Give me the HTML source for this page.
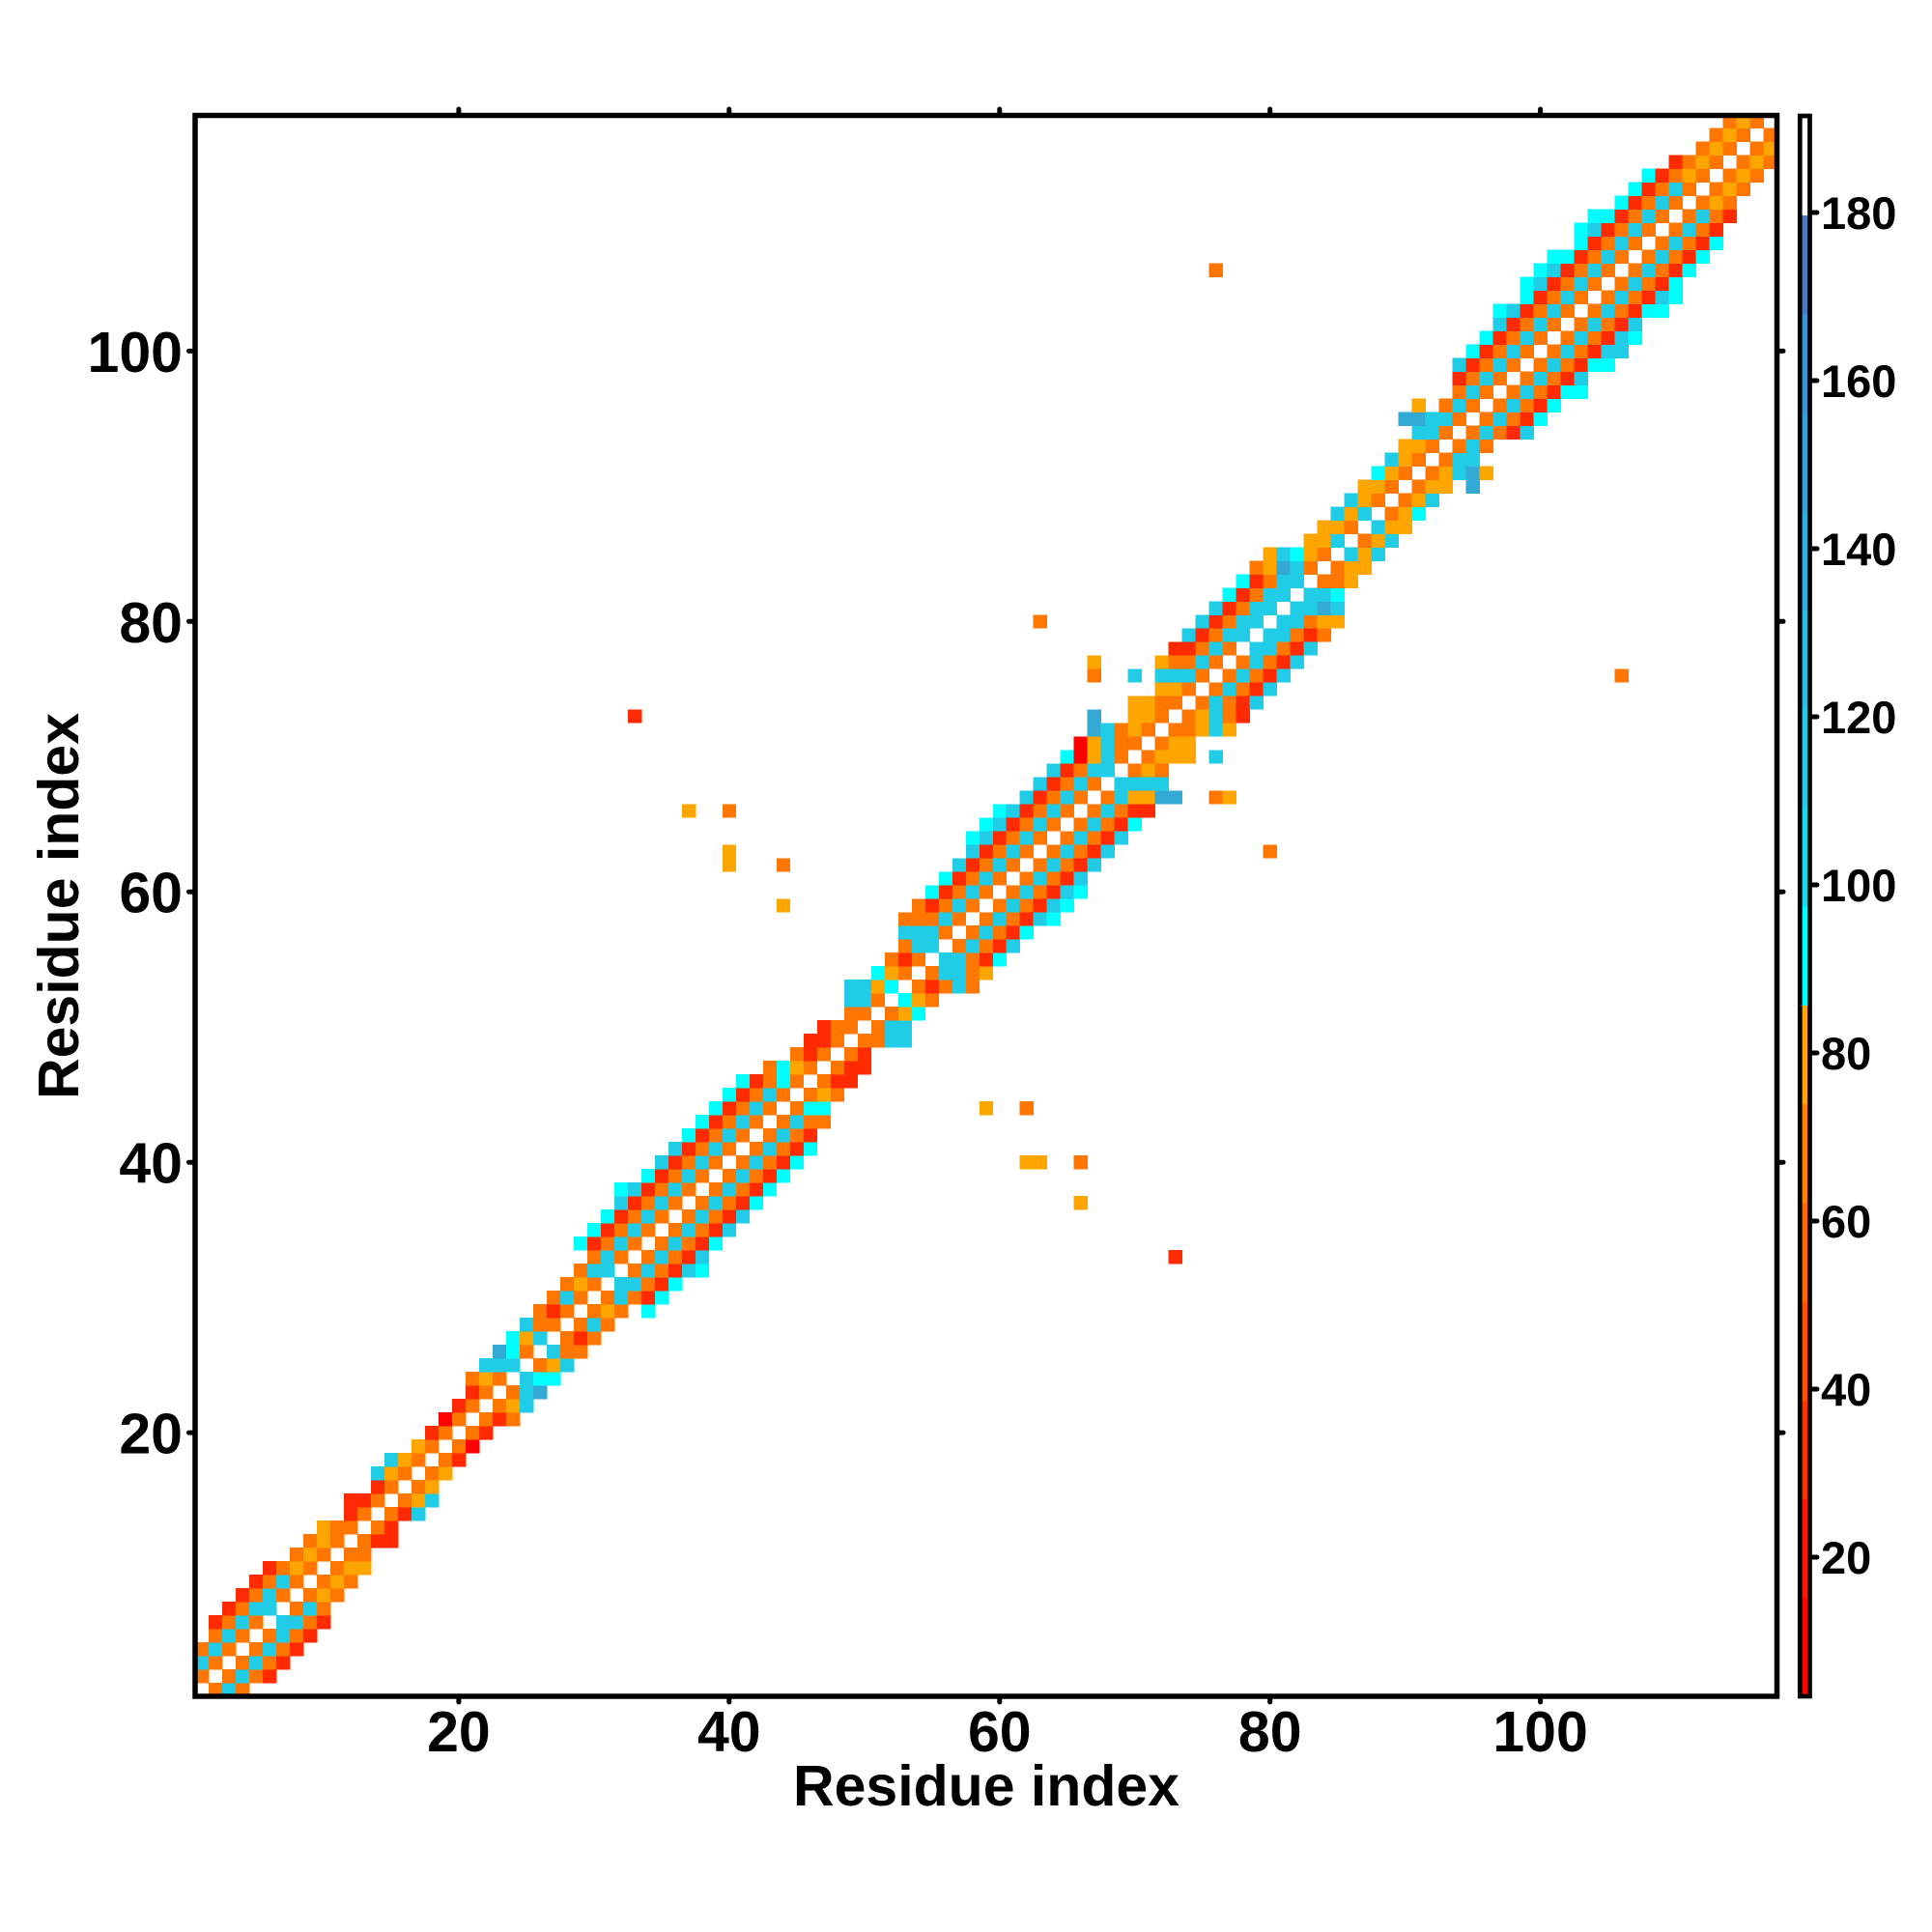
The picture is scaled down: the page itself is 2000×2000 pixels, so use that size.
<!DOCTYPE html>
<html>
<head>
<meta charset="utf-8">
<style>
html,body{margin:0;padding:0;background:#fff;width:2000px;height:2000px;overflow:hidden}
svg{display:block}
text{font-family:"Liberation Sans",Arial,sans-serif;font-weight:bold;fill:#000}
</style>
</head>
<body>
<svg id="s" width="2000" height="2000" viewBox="0 0 2000 2000">
<rect x="0" y="0" width="2000" height="2000" fill="#fff"/>
<g id="cells" shape-rendering="crispEdges"></g>
<g id="cbar" shape-rendering="crispEdges"></g>
<!-- frame -->
<rect x="202" y="119.5" width="1637.5" height="1636.5" fill="none" stroke="#000" stroke-width="5.5"/>
<!-- ticks -->
<g stroke="#000" stroke-width="5" stroke-linecap="round">
<line x1="474.9" y1="1756" x2="474.9" y2="1762"/>
<line x1="754.8" y1="1756" x2="754.8" y2="1762"/>
<line x1="1034.8" y1="1756" x2="1034.8" y2="1762"/>
<line x1="1314.7" y1="1756" x2="1314.7" y2="1762"/>
<line x1="1594.6" y1="1756" x2="1594.6" y2="1762"/>
<line x1="474.9" y1="119.5" x2="474.9" y2="113"/>
<line x1="754.8" y1="119.5" x2="754.8" y2="113"/>
<line x1="1034.8" y1="119.5" x2="1034.8" y2="113"/>
<line x1="1314.7" y1="119.5" x2="1314.7" y2="113"/>
<line x1="1594.6" y1="119.5" x2="1594.6" y2="113"/>
<line x1="202" y1="1483.1" x2="195.5" y2="1483.1"/>
<line x1="202" y1="1203.2" x2="195.5" y2="1203.2"/>
<line x1="202" y1="923.2" x2="195.5" y2="923.2"/>
<line x1="202" y1="643.3" x2="195.5" y2="643.3"/>
<line x1="202" y1="363.4" x2="195.5" y2="363.4"/>
<line x1="1839.5" y1="1483.1" x2="1846" y2="1483.1"/>
<line x1="1839.5" y1="1203.2" x2="1846" y2="1203.2"/>
<line x1="1839.5" y1="923.2" x2="1846" y2="923.2"/>
<line x1="1839.5" y1="643.3" x2="1846" y2="643.3"/>
<line x1="1839.5" y1="363.4" x2="1846" y2="363.4"/>
<!-- colorbar ticks -->
<line x1="1876" y1="220" x2="1881" y2="220"/>
<line x1="1876" y1="394" x2="1881" y2="394"/>
<line x1="1876" y1="568" x2="1881" y2="568"/>
<line x1="1876" y1="742" x2="1881" y2="742"/>
<line x1="1876" y1="916" x2="1881" y2="916"/>
<line x1="1876" y1="1090" x2="1881" y2="1090"/>
<line x1="1876" y1="1264" x2="1881" y2="1264"/>
<line x1="1876" y1="1438" x2="1881" y2="1438"/>
<line x1="1876" y1="1612" x2="1881" y2="1612"/>
</g>
<!-- colorbar frame -->
<rect x="1863.3" y="120" width="10.2" height="1636" fill="none" stroke="#000" stroke-width="4.7"/>
<!-- x tick labels -->
<g font-size="59" text-anchor="middle">
<text x="474.9" y="1813">20</text>
<text x="754.8" y="1813">40</text>
<text x="1034.8" y="1813">60</text>
<text x="1314.7" y="1813">80</text>
<text x="1594.6" y="1813">100</text>
</g>
<!-- y tick labels -->
<g font-size="59" text-anchor="end">
<text x="189" y="1504.6">20</text>
<text x="189" y="1224.7">40</text>
<text x="189" y="944.7">60</text>
<text x="189" y="664.8">80</text>
<text x="189" y="384.9">100</text>
</g>
<!-- colorbar labels -->
<g font-size="47">
<text x="1885" y="236.8">180</text>
<text x="1885" y="410.8">160</text>
<text x="1885" y="584.8">140</text>
<text x="1885" y="758.8">120</text>
<text x="1885" y="932.8">100</text>
<text x="1885" y="1106.8">80</text>
<text x="1885" y="1280.8">60</text>
<text x="1885" y="1454.8">40</text>
<text x="1885" y="1628.8">20</text>
</g>
<!-- axis titles -->
<text x="1021" y="1869" font-size="59" text-anchor="middle">Residue index</text>
<text transform="translate(81,938) rotate(-90)" font-size="59" text-anchor="middle">Residue index</text>
</svg>
<script>
(function(){
var rows=[
[1,1,"WOCO"],[2,1,"OWOCOR"],[3,1,"COWOCOR"],[4,1,"OCOWOCOR"],[5,2,"OCOWOCOR"],
[6,2,"ROCOWCCOR"],[7,3,"ROCCWOCO"],[8,4,"ROCOWOLO"],[9,5,"ROCOWOLO"],[10,6,"ROLOWOLL"],
[11,8,"OLOWOO"],[12,9,"OLOWORR"],[13,10,"LOOWOR"],[14,12,"ROWORC"],[15,12,"RROWOLC"],
[16,14,"ROWOL"],[17,14,"CLOWOL"],[18,15,"CLOWOR"],[19,17,"LOWOX"],[20,18,"ROWOR"],
[21,19,"XOWORO"],[22,20,"ROWOLC"],[23,21,"ROWOCB"],[24,21,"OLOWCAA"],[25,22,"CCCWOLC"],
[26,23,"BAOWCOO"],[27,24,"ALCWORO"],[28,25,"COOWOCO"],[29,26,"OROWOLO.A"],[30,27,"OCOWOCORA"],
[31,28,"OLOWCCORA"],[32,29,"OCCWOCORCA"],[33,30,"OCOWOCORC"],[34,29,"AROCOWOCORA"],[35,30,"AROCOWOCORC"],
[36,31,"AROCOWOCORC"],[37,32,"CROCOWOCORA"],[38,32,"ACROCOWOCORA"],[39,34,"AROCOWOCORA"],[40,35,"CROCOWOCORA"],
[41,36,"CROCOWOCORA"],[42,37,"AROCOWOCOR"],[43,38,"AROCOWOCOO"],[44,39,"AROCOWOAA"],[45,40,"AROCOWOLO"],
[46,41,"AROAOWORR"],[47,43,"OALOWORR"],[48,45,"OROWOR"],[49,46,"RROWOOCC"],[50,47,"ROOWOCC"],
[51,49,"OOWOLA"],[52,49,"CCOWALO"],[53,49,"CCLAWOROCO"],[54,51,"ALOWOCCOL"],[55,52,"OROWCCORA"],
[56,53,"OCCWOCORC"],[57,53,"CCCOWOCORA"],[58,53,"OOOCOWOCORCA"],[59,54,"OROCOWOCORCA"],[60,55,"AROCOWOCORCA"],
[61,56,"AROCOWOCORC"],[62,57,"CROCOWOCORC"],[63,58,"CROCOWOCORC"],[64,58,"ACROCOWOCORC"],[65,59,"ACROCOWOCORA"],
[66,60,"ACROCOWOCORR"],[67,62,"CROCOWOCLLBB"],[68,63,"CROCOWCCCC"],[69,64,"CROCCWOLO"],[70,65,"AXLCOWOLLL"],
[71,66,"XLCOOWOLL"],[72,67,"BCOLOWOOLCL"],[73,67,"B..LLOWOLCOR"],[74,70,"LLOOWOCORC"],[75,72,"LLOWOCORC"],
[76,72,"CCCOWOCORC"],[77,72,"LOOCOWOCORC"],[78,73,"RROCOWCCORC"],[79,74,"CROCCWCCORO"],[80,75,"CROCCWCCOLL"],
[81,76,"CROCCWCCBC"],[82,77,"AROCCWCCA"],[83,78,"AROCCWOOL"],[84,79,"OLBCOWOLL"],[85,80,"LCALOWCLC"],
[86,83,"LLCWOLC"],[87,84,"LLOWCLL"],[88,85,"CLCWOLA"],[89,86,"CLOWOLC"],[90,87,"LLOWOLL.B"],
[91,88,"ALOWOLCBL"],[92,89,"CLOWOCC"],[93,90,"LLOWOCO"],[94,91,"CCOWOCORC"],[95,90,"BBCCOWOCORA"],
[96,91,"L.OCOWOCORA"],[97,94,"OCOWOCORAA"],[98,94,"ROCOWOCORC"],[99,94,"CROCOWOCORAA"],[100,95,"AROCOWOCORCC"],
[101,96,"AROCOWOCORCA"],[102,97,"CROCOWOCORC"],[103,97,"ACROCOWOCORAA"],[104,99,"AROCOWOCORCA"],[105,99,"ACROCOWOCORA"],
[106,100,"ACROCOWOCORA"],[107,101,"AAROCOWOCORA"],[108,103,"AROCOWOCORA"],[109,103,"ACROCOWOCOR"],[110,104,"AAROCOWOCOR"],
[111,106,"AROCOWOLO"],[112,107,"AROCOWOLO"],[113,108,"AROLOWOLO"],[114,110,"ROLOWOLO"],[115,112,"OLOWOL"],
[116,113,"OLOWO"],[117,114,"OLOW"],
[66,37,"L"],[66,40,"O"],[62,40,"L"],[63,40,"L"],[62,44,"O"],[59,44,"L"],[73,33,"R"],[106,76,"O"],
[80,63,"O"],[67,76,"OL"],[70,76,"C"],[76,67,"O"],[77,67,"L"],[76,70,"C"]
];
var col={O:"#ff7700",L:"#ffa500",R:"#ff2a00",X:"#ff0000",C:"#20cce6",A:"#00ffff",B:"#33aad6"};
var M={};
rows.forEach(function(e){
  var r=e[0],s=e[1],str=e[2];
  for(var i=0;i<str.length;i++){
    var ch=str.charAt(i);
    if(ch==="."||ch==="W")continue;
    var k=r+","+(s+i);
    if(!M[k])M[k]=ch;
  }
});
Object.keys(M).forEach(function(k){
  var p=k.split(",");var t=p[1]+","+p[0];
  if(!M[t])M[t]=M[k];
});
var w=(1839.5-202)/117;
var h=[];
Object.keys(M).forEach(function(k){
  var p=k.split(",");var r=+p[0],c=+p[1];
  if(r<1||r>117||c<1||c>117)return;
  var x=202+(c-1)*w,y=1756-r*w;
  h.push('<rect x="'+x.toFixed(2)+'" y="'+y.toFixed(2)+'" width="'+(w+0.4).toFixed(2)+'" height="'+(w+0.4).toFixed(2)+'" fill="'+col[M[k]]+'"/>');
});
document.getElementById("cells").innerHTML=h.join("");
var bins=["#ff0000","#ff1a00","#ff3300","#ff5000","#ff6a00","#ff8200","#ffa500","#00ffff","#16dcec","#20cce6","#28bfe0","#30b0d8","#38a2d2","#4093ca","#4a7dbd","#ffffff"];
var g=[],bh=(1756-120)/16;
for(var i=0;i<16;i++){
  var yb=1756-(i+1)*bh;
  g.push('<rect x="1863.3" y="'+yb.toFixed(2)+'" width="10.2" height="'+(bh+0.5).toFixed(2)+'" fill="'+bins[i]+'"/>');
}
document.getElementById("cbar").innerHTML=g.join("");
})();
</script>
</body>
</html>
